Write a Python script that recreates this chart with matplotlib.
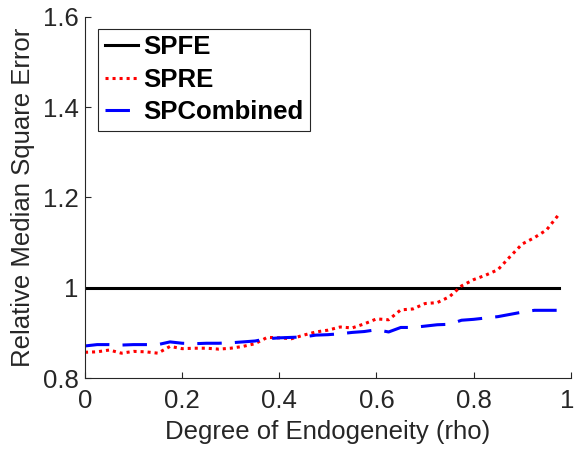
import numpy as np
import matplotlib.pyplot as plt
from matplotlib.transforms import ScaledTranslation

plt.rcParams['font.family'] = ['Liberation Sans', 'DejaVu Sans']

# Data
#--------------------------------------------------------------------
rho = np.arange(40) * 0.025
spfe = [1.0] * 40
spre = [0.857, 0.858, 0.862, 0.855, 0.859, 0.858, 0.855, 0.870, 0.865, 0.866,
        0.866, 0.864, 0.866, 0.870, 0.876, 0.890, 0.889, 0.887, 0.895, 0.902,
        0.906, 0.913, 0.911, 0.920, 0.931, 0.929, 0.951, 0.953, 0.965, 0.967,
        0.980, 1.004, 1.018, 1.028, 1.040, 1.069, 1.097, 1.111, 1.128, 1.162]
spcomb = [0.871, 0.874, 0.874, 0.873, 0.874, 0.874, 0.874, 0.880, 0.877, 0.876,
          0.877, 0.877, 0.878, 0.880, 0.882, 0.887, 0.889, 0.890, 0.891, 0.895,
          0.896, 0.898, 0.901, 0.903, 0.907, 0.902, 0.912, 0.912, 0.915, 0.918,
          0.919, 0.928, 0.930, 0.933, 0.936, 0.941, 0.946, 0.950, 0.950, 0.950]
xticks = [0, 0.2, 0.4, 0.6, 0.8, 1]
xticklabels = ['0', '0.2', '0.4', '0.6', '0.8', '1']
yticks = [0.8, 1.0, 1.2, 1.4, 1.6]
yticklabels = ['0.8', '1', '1.2', '1.4', '1.6']

# Plot
#--------------------------------------------------------------------
fig = plt.figure(figsize=(5.76, 4.54), dpi=100)
ax = fig.add_axes([0.1476, 0.1674, 0.8434, 0.7952])

ax.plot(rho, spfe, color='black', lw=2.2, label='SPFE')
ax.plot(rho, spre, color='red', lw=2.2, ls=(0, (1, 1.3)), label='SPRE')
ax.plot(rho, spcomb, color='blue', lw=2.2, ls=(0, (8, 4.3)),
        dash_capstyle='butt', label='SPCombined')

ax.set_xlim(0, 1)
ax.set_ylim(0.8, 1.6)
ax.set_xticks(xticks)
ax.set_xticklabels(xticklabels)
ax.set_yticks(yticks)
ax.set_yticklabels(yticklabels)
ax.tick_params(direction='in', length=4, labelsize=18.5, colors='#262626')
ax.tick_params(axis='x', pad=8)
ax.tick_params(axis='y', pad=4.5)
for s in ['top', 'right']:
    ax.spines[s].set_visible(False)
for s in ['left', 'bottom']:
    ax.spines[s].set_color('#262626')
    ax.spines[s].set_linewidth(0.8)

# keep the last x tick label inside the figure
last = ax.get_xticklabels()[-1]
last.set_transform(last.get_transform() + ScaledTranslation(-0.035, 0, fig.dpi_scale_trans))

ax.set_xlabel('Degree of Endogeneity (rho)', fontsize=18.5, color='#262626', va='center')
ax.set_ylabel('Relative Median Square Error', fontsize=18.5, color='#262626', va='center')
ax.xaxis.set_label_coords(0.5, -0.1496)
ax.yaxis.set_label_coords(-0.1276, 0.5)

leg = ax.legend(loc='upper left', bbox_to_anchor=(0.027, 0.967),
                prop={'weight': 'bold', 'size': 18.5}, handlelength=1.3,
                handletextpad=0.2, borderpad=0.25, labelspacing=0.33,
                borderaxespad=0, fancybox=False, framealpha=1)
leg.get_frame().set_edgecolor('#262626')
leg.get_frame().set_linewidth(0.8)

plt.savefig('out.png', dpi=100)
